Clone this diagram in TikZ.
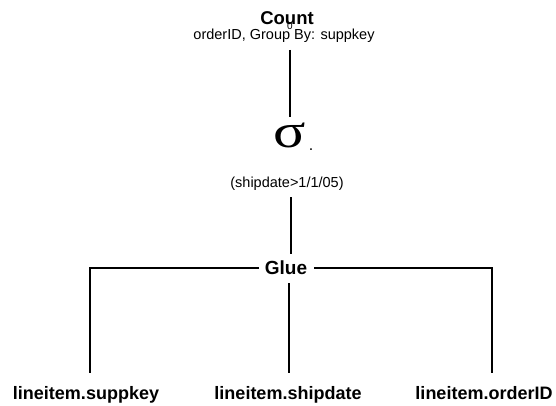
\documentclass[tikz,border=0pt]{standalone}
\usepackage{fontspec}
\setmainfont{Liberation Sans}
\newfontfamily\serifgreek{Liberation Serif}
\begin{document}
\begin{tikzpicture}[x=1pt,y=-1pt,
  lbl/.style={inner sep=0pt, anchor=base, font=\bfseries\fontsize{18}{20}\selectfont},
  small/.style={inner sep=0pt, anchor=base, font=\fontsize{14.5}{16}\selectfont},
  conn/.style={line width=1.5pt, line cap=butt}]
\useasboundingbox (0,0) rectangle (556,406);
\node[inner sep=0pt, anchor=base, font=\bfseries\fontsize{18.5}{20}\selectfont] (count) at (287,25) {Count};
\node[small] (grp) at (284,40) {orderID, Group By: suppkey};
\node[inner sep=0pt, anchor=base, font=\fontsize{10}{10}\selectfont] (zero) at (290,30) {0};
\node[inner sep=0pt, anchor=base, font=\serifgreek\fontsize{48}{50}\selectfont] (sigma) at (290,148) {\scalebox{1.25}[1]{σ}};
\node[inner sep=0pt, anchor=base, font=\fontsize{16}{16}\selectfont] (dot) at (311,151) {.};
\node[small] (cond) at (287,187) {(shipdate>1/1/05)};
\node[lbl, font=\bfseries\fontsize{19}{20}\selectfont] (glue) at (286,274) {Glue};
\node[lbl] (l1) at (86,399) {lineitem.suppkey};
\node[lbl] (l2) at (288,399) {lineitem.shipdate};
\node[lbl] (l3) at (484,399) {lineitem.orderID};
\coordinate (a1) at (290,50);
\coordinate (a2) at (290,117);
\coordinate (b1) at (291,197);
\coordinate (b2) at (291,254);
\coordinate (c1) at (289,283);
\coordinate (c2) at (289,373);
\coordinate (h1) at (259,268);
\coordinate (e1) at (90,373);
\coordinate (h3) at (314,268);
\coordinate (e3) at (492,373);
\draw[conn] (a1) -- (a2);
\draw[conn] (b1) -- (b2);
\draw[conn] (c1) -- (c2);
\draw[conn] (h1) -| (e1);
\draw[conn] (h3) -| (e3);
\end{tikzpicture}
\end{document}
